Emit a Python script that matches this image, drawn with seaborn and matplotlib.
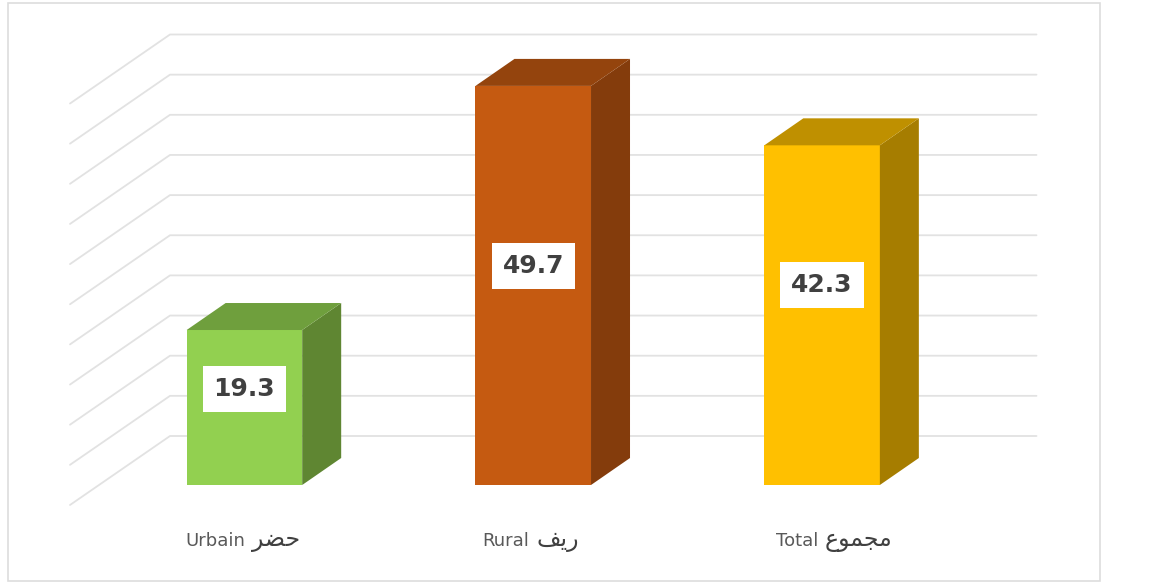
import matplotlib
matplotlib.use('Agg')
import matplotlib.pyplot as plt
from matplotlib.patches import Polygon, Rectangle
import numpy as np
import pandas as pd
import seaborn as sns

categories = ['Urbain', 'Rural', 'Total']
# Arabic words are written as presentation forms in visual order,
# matplotlib does no shaping or right-to-left layout by itself
categories_ar = ['\uFEAE\uFEC0\uFEA3', '\uFED2\uFEF3\uFEAD', '\uFEC9\uFEEE\uFEE4\uFEA0\uFEE3']
values = [19.3, 49.7, 42.3]
grid_values = [0, 5, 10, 15, 20, 25, 30, 35, 40, 45, 50]

front_colors = ['#92D050', '#C55A11', '#FFC000']
side_colors = ['#5F8632', '#843C0C', '#A67D00']
top_colors = ['#6F9F3D', '#94440D', '#BF9000']

W, H = 1164, 584
sns.set_theme(style='white')
plt.rcParams['font.family'] = ['DejaVu Sans']

fig = plt.figure(figsize=(W / 100, H / 100), dpi=100)
ax = fig.add_axes([100 / W, (H - 485) / H, 866.5 / W, 401.5 / H])

df = pd.DataFrame({'cat': categories, 'val': values})
sns.barplot(data=df, x='cat', y='val', hue='cat', palette=front_colors,
            width=0.4, saturation=1, legend=False, linewidth=0, ax=ax, zorder=3)
ax.set_xlim(-0.5, 2.5)
ax.set_ylim(0, 50)

# pixel sizes of the fake depth, converted to data units
ux = 3 / 866.5
uy = 50 / 401.5

# back wall and slanted floor/side lines
for v in grid_values:
    xs = [-0.5 - 30 * ux, -0.5 + 70 * ux, 2.5 + 70 * ux]
    ys = [v - 20 * uy, v + 49 * uy, v + 49 * uy]
    ax.plot(xs, ys, color='#E2E2E2', lw=1.3, clip_on=False, zorder=1)

# side and top faces of each bar
dx, dy = 39 * ux, 27 * uy
for bar, side, top in zip(ax.patches, side_colors, top_colors):
    x0 = bar.get_x()
    x1 = x0 + bar.get_width()
    h = bar.get_height()
    ax.add_patch(Polygon([(x1, 0), (x1 + dx, dy), (x1 + dx, h + dy), (x1, h)],
                         fc=side, ec='none', clip_on=False, zorder=3))
    ax.add_patch(Polygon([(x0, h), (x0 + dx, h + dy), (x1 + dx, h + dy), (x1, h)],
                         fc=top, ec='none', clip_on=False, zorder=3))

# value labels in white boxes, placed a bit above the bar middle
lifts = [21, 22, 33]
for i, (v, lift) in enumerate(zip(values, lifts)):
    ax.annotate(f'{v:.1f}', (i, v / 2), xytext=(0, lift * 0.72), textcoords='offset points',
                ha='center', va='center_baseline', fontsize=18, fontweight='bold', color='#404040',
                bbox=dict(boxstyle='square,pad=0.44', fc='white', ec='none'), zorder=5)

# category labels, latin and arabic parts meet near the tick
gaps = [3, -2, -2]
for i, (fr, ar, gap) in enumerate(zip(categories, categories_ar, gaps)):
    ax.annotate(fr, (i, 0), xytext=((gap - 2) * 0.72, -61 * 0.72), textcoords='offset points',
                ha='right', va='baseline', fontsize=13, color='#595959', annotation_clip=False)
    ax.annotate(ar, (i, 0), xytext=((gap + 5) * 0.72, -61 * 0.72), textcoords='offset points',
                ha='left', va='baseline', fontsize=17, color='#404040', annotation_clip=False)

ax.set_xlabel('')
ax.set_ylabel('')
ax.set_xticks([])
ax.set_yticks([])
sns.despine(ax=ax, left=True, bottom=True, top=True, right=True)
ax.patch.set_alpha(0)

# chart frame
fig.add_artist(Rectangle((8 / W, 3 / H), 1092 / W, 578 / H, transform=fig.transFigure,
                         fc='none', ec='#DDDDDD', lw=1.2))

fig.savefig('out.png', dpi=100)
